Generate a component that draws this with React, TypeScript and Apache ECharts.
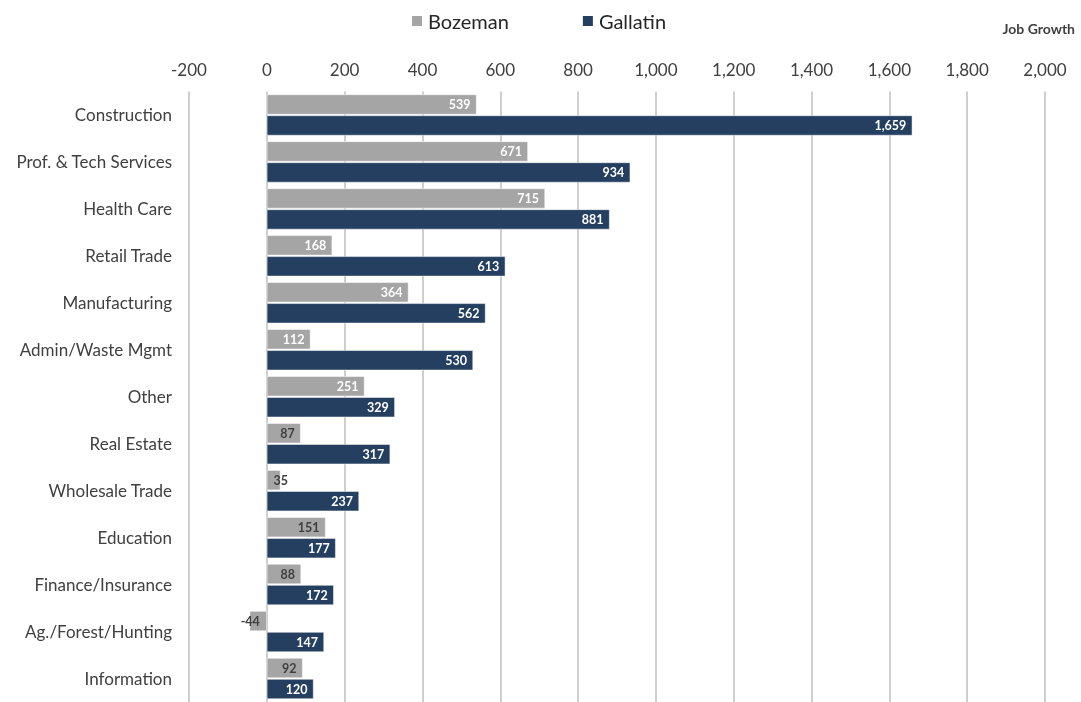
import React, { useEffect, useRef } from "react";
import * as echarts from "echarts";

const categories = [
  "Construction",
  "Prof. & Tech Services",
  "Health Care",
  "Retail Trade",
  "Manufacturing",
  "Admin/Waste Mgmt",
  "Other",
  "Real Estate",
  "Wholesale Trade",
  "Education",
  "Finance/Insurance",
  "Ag./Forest/Hunting",
  "Information",
];
const bozeman = [539, 671, 715, 168, 364, 112, 251, 87, 35, 151, 88, -44, 92];
const gallatin = [1659, 934, 881, 613, 562, 530, 329, 317, 237, 177, 172, 147, 120];
const xTicks = { min: -200, max: 2000, interval: 200 };

const fmt = (v: number) => v.toLocaleString("en-US");

export default function App() {
  const ref = useRef<HTMLDivElement>(null);
  useEffect(() => {
    if (!ref.current) return;
    const chart = echarts.init(ref.current, null, { renderer: "svg" });
    const font = "Lato, 'Open Sans', sans-serif";
    const bozData = bozeman.map((v) => {
      const white = v >= 100 && v !== 151;
      const item: any = {
        value: v,
        label: { color: white ? "#ffffff" : "#404040" },
      };
      if (v < 0) {
        item.label.position = "insideLeft";
        item.label.distance = -9;
      } else if (v < 50) {
        item.label.position = "right";
        item.label.distance = -7;
      }
      return item;
    });
    chart.setOption({
      animation: false,
      textStyle: { fontFamily: font },
      legend: {
        top: 6,
        left: 405,
        itemWidth: 12,
        itemHeight: 12,
        itemGap: 72,
        icon: "rect",
        textStyle: { fontSize: 20, color: "#262626", fontFamily: font },
        data: ["Bozeman", "Gallatin"],
      },
      graphic: [
        {
          type: "text",
          right: 6,
          top: 21,
          style: {
            text: "Job Growth",
            fontSize: 14,
            fontWeight: "bold",
            fill: "#404040",
            fontFamily: font,
          },
        },
      ],
      grid: { left: 189, right: 36, top: 91.5, bottom: 0, outerBoundsMode: "none" },
      xAxis: {
        type: "value",
        position: "top",
        min: xTicks.min,
        max: xTicks.max,
        interval: xTicks.interval,
        axisLine: { show: false },
        axisTick: { show: false },
        axisLabel: {
          formatter: (v: number) => fmt(v),
          fontSize: 17,
          color: "#404040",
          margin: 14,
          fontFamily: font,
        },
        splitLine: { show: true, lineStyle: { color: "#bfbfbf", width: 1.5 } },
      },
      yAxis: {
        type: "category",
        inverse: true,
        data: categories,
        axisLine: { show: false },
        axisTick: { show: false },
        axisLabel: { fontSize: 17, color: "#404040", margin: 17, fontFamily: font, align: "right" },
      },
      series: [
        {
          name: "Bozeman",
          type: "bar",
          data: bozData,
          barWidth: 20,
          barGap: "5%",
          itemStyle: { color: "#a5a5a5", borderColor: "#ffffff", borderWidth: 0.5 },
          label: {
            show: true,
            position: "insideRight",
            distance: 6,
            fontSize: 12.5,
            fontWeight: "bold",
            formatter: (p: any) => fmt(p.value),
            fontFamily: font,
          },
        },
        {
          name: "Gallatin",
          type: "bar",
          data: gallatin,
          barWidth: 20,
          barGap: "5%",
          itemStyle: { color: "#243f60", borderColor: "#ffffff", borderWidth: 0.5 },
          label: {
            show: true,
            position: "insideRight",
            distance: 6,
            fontSize: 12.5,
            fontWeight: "bold",
            color: "#ffffff",
            formatter: (p: any) => fmt(p.value),
            fontFamily: font,
          },
        },
      ],
    });
    return () => chart.dispose();
  }, []);
  return (
    <div
      ref={ref}
      style={{ position: "fixed", left: 0, top: 0, width: 1081, height: 702 }}
    />
  );
}
